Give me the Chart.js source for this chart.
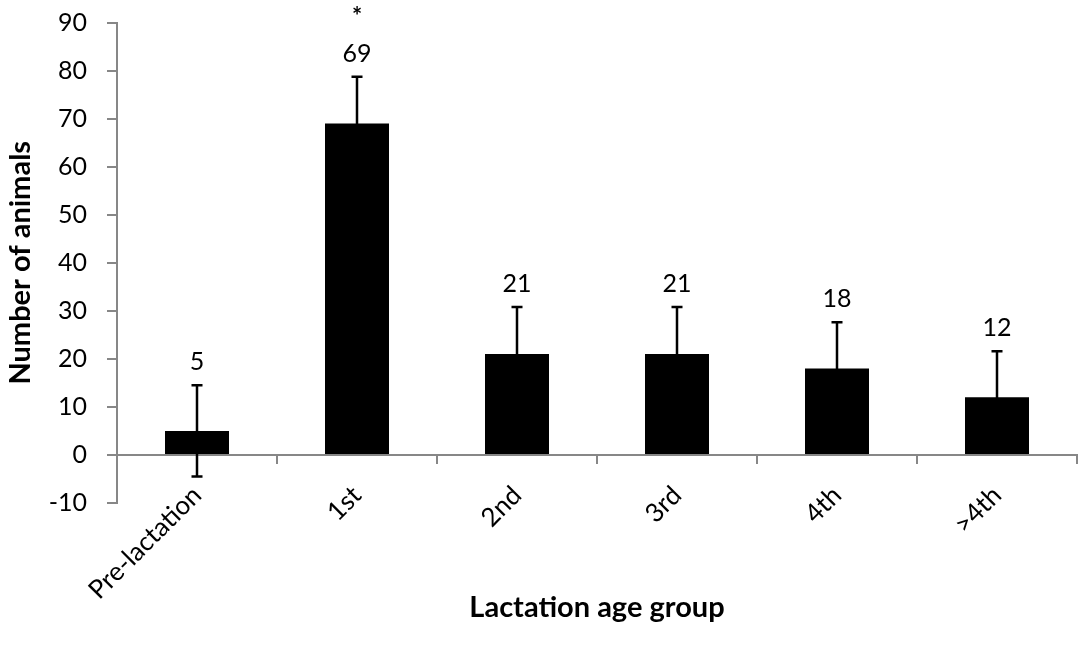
<!DOCTYPE html>
<html>
<head>
<meta charset="utf-8">
<script src="https://cdn.jsdelivr.net/npm/chart.js@4"></script>
<style>
  html, body { margin: 0; padding: 0; background: #fff; }
  #wrap { width: 1084px; height: 660px; }
</style>
</head>
<body>
<div id="wrap"><canvas id="myChart"></canvas></div>
<script>
var groups = ['Pre-lactation', '1st', '2nd', '3rd', '4th', '>4th'];
var animals = [5, 69, 21, 21, 18, 12];
var errors = [9.5, 9.7, 9.8, 9.8, 9.6, 9.6];
var marks = ['', '*', '', '', '', ''];
var yTicks = [-10, 0, 10, 20, 30, 40, 50, 60, 70, 80, 90];

var axisGray = '#878787';
var fontName = 'Lato, "Open Sans", sans-serif';

// error bars, value labels and the significance star
var barExtras = {
  id: 'barExtras',
  afterDatasetsDraw: function(chart) {
    var ctx = chart.ctx;
    var y = chart.scales.y;
    var meta = chart.getDatasetMeta(0);
    ctx.save();
    ctx.strokeStyle = '#000';
    ctx.lineWidth = 2.5;
    ctx.fillStyle = '#000';
    ctx.textAlign = 'center';
    ctx.textBaseline = 'middle';
    meta.data.forEach(function(bar, i) {
      var top = y.getPixelForValue(animals[i] + errors[i]);
      var bot = y.getPixelForValue(animals[i] - errors[i]);
      ctx.beginPath();
      ctx.moveTo(bar.x, bot);
      ctx.lineTo(bar.x, top);
      ctx.moveTo(bar.x - 5.5, top);
      ctx.lineTo(bar.x + 5.5, top);
      ctx.moveTo(bar.x - 5.5, bot);
      ctx.lineTo(bar.x + 5.5, bot);
      ctx.stroke();
      ctx.font = '25px ' + fontName;
      ctx.fillText(String(animals[i]), bar.x, top - 23);
      if (marks[i]) {
        ctx.font = 'bold 24px ' + fontName;
        ctx.fillText(marks[i], bar.x, top - 60);
      }
    });
    ctx.restore();
  }
};

var ctx = document.getElementById('myChart');
var barChart = new Chart(ctx, {
  type: 'bar',
  data: {
    labels: groups,
    datasets: [{
      label: 'Number of animals',
      data: animals,
      backgroundColor: '#000',
      borderWidth: 0,
      categoryPercentage: 1.0,
      barPercentage: 0.4
    }]
  },
  options: {
    responsive: true,
    maintainAspectRatio: false,
    animation: false,
    layout: { autoPadding: false, padding: { left: 6, right: 7, top: 22, bottom: 157 } },
    plugins: {
      legend: { display: false },
      tooltip: { enabled: false }
    },
    scales: {
      x: {
        position: { y: 0 },
        grid: {
          offset: true,
          drawOnChartArea: false,
          drawTicks: true,
          tickLength: 8,
          color: axisGray,
          lineWidth: 2
        },
        border: { display: true, color: axisGray, width: 2 },
        ticks: {
          color: '#000',
          font: { family: fontName, size: 26 },
          minRotation: 45,
          maxRotation: 45,
          padding: 17,
          autoSkip: false
        },
        title: {
          display: true,
          text: 'Lactation age group',
          color: '#000',
          font: { family: fontName, size: 29, weight: 'bold', lineHeight: 1 },
          padding: { top: -29, bottom: 0 }
        }
      },
      y: {
        min: -10,
        max: 90,
        afterBuildTicks: function(scale) {
          scale.ticks = yTicks.map(function(v) { return { value: v }; });
        },
        afterFit: function(scale) {
          scale.width = 111;
        },
        grid: {
          drawOnChartArea: false,
          drawTicks: true,
          tickLength: 10,
          color: axisGray,
          lineWidth: 2
        },
        border: { display: true, color: axisGray, width: 2 },
        ticks: {
          color: '#000',
          font: { family: fontName, size: 25, lineHeight: 0.2 },
          padding: 20
        },
        title: {
          display: true,
          text: 'Number of animals',
          color: '#000',
          font: { family: fontName, size: 29, weight: 'bold', lineHeight: 1 },
          padding: { top: 0, bottom: 0 }
        }
      }
    }
  },
  plugins: [barExtras]
});
</script>
</body>
</html>
